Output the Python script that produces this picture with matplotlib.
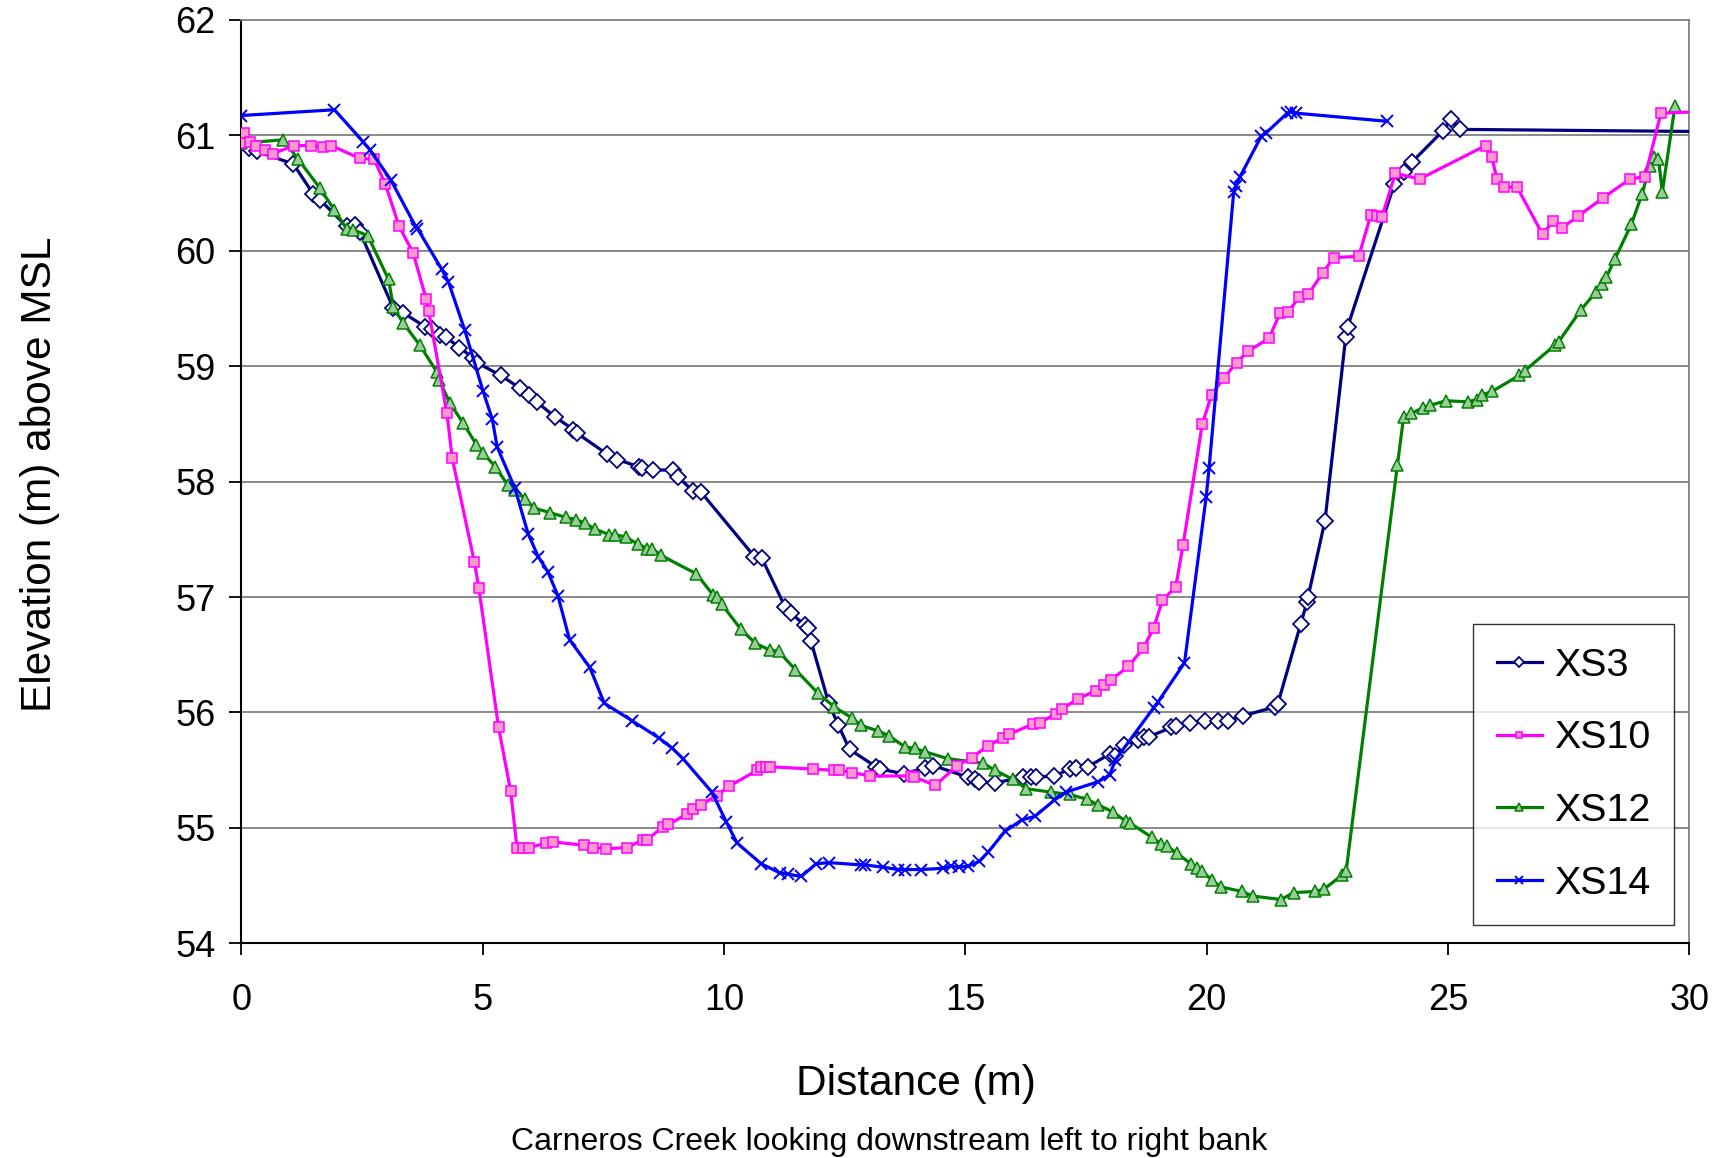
import matplotlib
matplotlib.use("Agg")
import matplotlib.pyplot as plt

plt.rcParams['font.family'] = ['Liberation Sans', 'DejaVu Sans']

# ---------------------------------------------------------------------------
# Cross-section survey data (distance m, elevation m above MSL)
# ---------------------------------------------------------------------------
xs3_x = [0.00, 0.15, 0.32, 1.08, 1.49, 1.63, 2.18, 2.36, 2.46, 3.15, 3.36, 3.81,
         3.96, 4.12, 4.24, 4.52, 4.81, 4.88, 5.37, 5.77, 5.97, 6.12, 6.50, 6.88,
         6.95, 7.57, 7.79, 8.23, 8.30, 8.52, 8.94, 9.05, 9.35, 9.52, 10.63, 10.78,
         11.27, 11.38, 11.67, 11.73, 11.80, 12.17, 12.37, 12.60, 13.15, 13.23, 13.72,
         14.17, 14.34, 15.05, 15.20, 15.29, 15.61, 16.20, 16.36, 16.47, 16.84, 17.16,
         17.30, 17.54, 17.99, 18.09, 18.28, 18.57, 18.70, 18.80, 19.27, 19.37, 19.65,
         19.96, 20.23, 20.44, 20.75, 21.42, 21.47, 21.95, 22.08, 22.10, 22.45, 22.88,
         22.92, 23.89, 24.08, 24.26, 24.90, 25.06, 25.25, 30.60]
xs3_y = [60.93, 60.89, 60.86, 60.75, 60.49, 60.44, 60.21, 60.22, 60.16, 59.50, 59.46, 59.34,
         59.32, 59.27, 59.25, 59.16, 59.07, 59.03, 58.92, 58.81, 58.75, 58.69, 58.56, 58.45,
         58.42, 58.24, 58.19, 58.13, 58.12, 58.10, 58.10, 58.04, 57.92, 57.91, 57.35, 57.34,
         56.91, 56.86, 56.76, 56.73, 56.62, 56.08, 55.89, 55.68, 55.53, 55.51, 55.47,
         55.52, 55.54, 55.44, 55.42, 55.40, 55.39, 55.44, 55.44, 55.44, 55.45, 55.51,
         55.52, 55.53, 55.64, 55.62, 55.72, 55.76, 55.79, 55.79, 55.87, 55.88, 55.91,
         55.93, 55.93, 55.93, 55.97, 56.05, 56.07, 56.77, 56.96, 57.00, 57.66, 59.25,
         59.34, 60.58, 60.68, 60.77, 61.04, 61.14, 61.05, 61.03]

xs10_x = [0.00, 0.06, 0.19, 0.30, 0.49, 0.65, 1.10, 1.44, 1.69, 1.86, 2.45, 2.75,
          2.98, 3.27, 3.56, 3.83, 3.88, 4.26, 4.37, 4.83, 4.92, 5.33, 5.58, 5.71,
          5.83, 5.97, 6.31, 6.45, 7.10, 7.28, 7.56, 7.99, 8.33, 8.41, 8.74, 8.85,
          9.23, 9.36, 9.52, 9.85, 10.10, 10.69, 10.77, 10.86, 10.95, 11.84, 12.28,
          12.38, 12.66, 13.03, 13.87, 13.94, 14.38, 14.83, 15.13, 15.47, 15.77, 15.90,
          16.40, 16.54, 16.88, 17.00, 17.34, 17.71, 17.87, 18.01, 18.38, 18.69, 18.90,
          19.08, 19.36, 19.51, 19.91, 20.10, 20.36, 20.62, 20.86, 21.29, 21.52, 21.69,
          21.92, 22.10, 22.41, 22.63, 23.15, 23.40, 23.52, 23.63, 23.91, 24.41, 25.78,
          25.91, 26.01, 26.15, 26.43, 26.96, 27.18, 27.37, 27.70, 28.22, 28.77, 29.08,
          29.41, 30.60]
xs10_y = [60.93, 61.02, 60.94, 60.91, 60.87, 60.84, 60.91, 60.91, 60.90, 60.91, 60.80, 60.79,
          60.58, 60.21, 59.98, 59.58, 59.48, 58.59, 58.20, 57.30, 57.08, 55.87, 55.32, 54.83,
          54.83, 54.83, 54.87, 54.88, 54.85, 54.83, 54.82, 54.83, 54.90, 54.90, 55.01, 55.03,
          55.12, 55.16, 55.20, 55.28, 55.36, 55.50, 55.53, 55.53, 55.53, 55.51, 55.50,
          55.50, 55.48, 55.45, 55.45, 55.44, 55.37, 55.54, 55.61, 55.71, 55.78, 55.81,
          55.90, 55.91, 55.99, 56.03, 56.12, 56.19, 56.24, 56.28, 56.40, 56.56, 56.73,
          56.97, 57.09, 57.45, 58.50, 58.75, 58.90, 59.03, 59.13, 59.24, 59.46, 59.47,
          59.60, 59.62, 59.81, 59.94, 59.95, 60.31, 60.30, 60.29, 60.67, 60.62, 60.91,
          60.81, 60.62, 60.55, 60.55, 60.14, 60.26, 60.20, 60.30, 60.46, 60.62, 60.64,
          61.19, 61.21]

xs12_x = [0.00, 0.87, 1.18, 1.63, 1.93, 2.18, 2.32, 2.62, 3.05, 3.15, 3.36, 3.70,
          4.05, 4.10, 4.32, 4.59, 4.87, 5.00, 5.26, 5.52, 5.67, 5.87, 6.07, 6.40,
          6.72, 6.94, 7.12, 7.32, 7.62, 7.75, 7.96, 8.21, 8.41, 8.51, 8.70, 9.43,
          9.77, 9.85, 9.95, 10.35, 10.65, 10.95, 11.13, 11.48, 11.94, 12.28, 12.66,
          12.83, 13.19, 13.41, 13.75, 13.96, 14.16, 14.64, 15.37, 15.61, 15.99, 16.26,
          16.78, 17.16, 17.51, 17.75, 18.05, 18.32, 18.42, 18.86, 19.06, 19.18, 19.39,
          19.67, 19.79, 19.90, 20.10, 20.29, 20.73, 20.96, 21.54, 21.80, 22.24, 22.43,
          22.80, 22.89, 23.95, 24.08, 24.24, 24.48, 24.63, 24.96, 25.41, 25.59, 25.70,
          25.91, 26.48, 26.59, 27.21, 27.29, 27.76, 28.06, 28.18, 28.28, 28.46, 28.80,
          29.02, 29.18, 29.26, 29.36, 29.44, 29.70]
xs12_y = [60.93, 60.96, 60.79, 60.54, 60.35, 60.19, 60.18, 60.13, 59.75, 59.51, 59.37, 59.18,
          58.95, 58.88, 58.68, 58.51, 58.32, 58.25, 58.13, 57.97, 57.93, 57.85, 57.77, 57.73,
          57.69, 57.67, 57.64, 57.59, 57.54, 57.54, 57.52, 57.46, 57.42, 57.42, 57.36, 57.20,
          57.02, 57.00, 56.94, 56.72, 56.60, 56.54, 56.53, 56.37, 56.17, 56.05, 55.95,
          55.89, 55.84, 55.80, 55.70, 55.69, 55.66, 55.60, 55.56, 55.50, 55.42, 55.34,
          55.31, 55.29, 55.25, 55.20, 55.14, 55.06, 55.04, 54.92, 54.86, 54.84, 54.78,
          54.69, 54.65, 54.63, 54.55, 54.49, 54.45, 54.41, 54.38, 54.44, 54.45, 54.47,
          54.59, 54.63, 58.14, 58.56, 58.59, 58.64, 58.66, 58.70, 58.69, 58.71, 58.75,
          58.78, 58.92, 58.96, 59.18, 59.21, 59.49, 59.64, 59.71, 59.77, 59.93, 60.23,
          60.49, 60.73, 60.81, 60.79, 60.51, 61.25]

xs14_x = [0.00, 1.93, 2.53, 2.67, 3.10, 3.61, 3.65, 4.15, 4.29, 4.63, 5.01, 5.20,
          5.30, 5.67, 5.94, 6.15, 6.35, 6.56, 6.80, 7.22, 7.52, 8.09, 8.65, 8.93,
          9.15, 9.75, 10.05, 10.27, 10.77, 11.16, 11.32, 11.60, 11.91, 12.18, 12.83,
          12.93, 13.29, 13.61, 13.75, 14.08, 14.54, 14.70, 14.86, 15.05, 15.29, 15.47,
          15.82, 16.17, 16.44, 16.84, 17.08, 17.75, 17.99, 18.11, 18.90, 18.99, 19.54,
          19.99, 20.05, 20.56, 20.60, 20.69, 21.13, 21.23, 21.67, 21.75, 21.86, 23.74]
xs14_y = [61.17, 61.22, 60.94, 60.87, 60.61, 60.21, 60.19, 59.84, 59.73, 59.31, 58.78, 58.54,
          58.30, 57.94, 57.55, 57.35, 57.22, 57.01, 56.63, 56.39, 56.08, 55.93, 55.78, 55.69,
          55.60, 55.31, 55.05, 54.87, 54.69, 54.61, 54.60, 54.58, 54.69, 54.70, 54.68,
          54.68, 54.66, 54.64, 54.64, 54.64, 54.65, 54.67, 54.66, 54.67, 54.71, 54.79,
          54.97, 55.07, 55.10, 55.24, 55.31, 55.40, 55.46, 55.59, 56.04, 56.09, 56.43,
          57.87, 58.12, 60.51, 60.56, 60.64, 60.99, 61.02, 61.19, 61.20, 61.19, 61.12]

x_ticks = [0, 5, 10, 15, 20, 25, 30]
y_ticks = [54, 55, 56, 57, 58, 59, 60, 61, 62]

# ---------------------------------------------------------------------------
# Figure
# ---------------------------------------------------------------------------
fig = plt.figure(figsize=(17.2, 11.58), dpi=100)
ax = fig.add_axes([0.1403, 0.1853, 0.8419, 0.7977])

ax.plot(xs3_x, xs3_y, color='#000080', lw=2.3, marker='D', ms=8,
        mfc='white', mec='#000080', mew=1.3, label='XS3', zorder=3)
ax.plot(xs10_x, xs10_y, color='#FF00FF', lw=2.3, marker='s', ms=7,
        mfc='#FF99CC', mec='#FF00FF', mew=1.1, label='XS10', zorder=4)
ax.plot(xs12_x, xs12_y, color='#008000', lw=2.3, marker='^', ms=8.5,
        mfc='#99CC99', mec='#008000', mew=1.1, label='XS12', zorder=3)
ax.plot(xs14_x, xs14_y, color='#0000FF', lw=2.3, marker='x', ms=8,
        mew=1.4, label='XS14', zorder=5)

ax.set_xlim(0, 30)
ax.set_ylim(54, 62)
ax.set_xticks(x_ticks)
ax.set_yticks(y_ticks)
ax.yaxis.grid(True, color='#808080', lw=1.3)
ax.set_axisbelow(True)

for side in ['left', 'bottom']:
    ax.spines[side].set_color('black')
    ax.spines[side].set_linewidth(1.5)
for side in ['top', 'right']:
    ax.spines[side].set_color('#808080')
    ax.spines[side].set_linewidth(1.3)

ax.tick_params(axis='both', direction='out', length=8.5, width=1.3,
               colors='black', labelsize=26)
ax.tick_params(axis='x', pad=20)
ax.tick_params(axis='y', pad=10)

fig.text(0.5326, 0.064, 'Distance (m)', fontsize=30.5, ha='center', va='center')
fig.text(0.0235, 0.5907, 'Elevation (m) above MSL', fontsize=30.5,
         rotation=90, ha='center', va='center')
fig.text(0.517, 0.0135, 'Carneros Creek looking downstream left to right bank',
         fontsize=23, ha='center', va='center')

leg = ax.legend(loc='upper left', bbox_to_anchor=(0.8564, 0.4611),
                bbox_transform=fig.transFigure, fontsize=28.4, frameon=True,
                fancybox=False, shadow=False, handlelength=1.15,
                handletextpad=0.3, labelspacing=0.93, borderpad=0.6,
                markerscale=0.7, borderaxespad=0)
leg.get_frame().set_edgecolor('black')
leg.get_frame().set_linewidth(1.0)

fig.savefig('out.png', dpi=100)
